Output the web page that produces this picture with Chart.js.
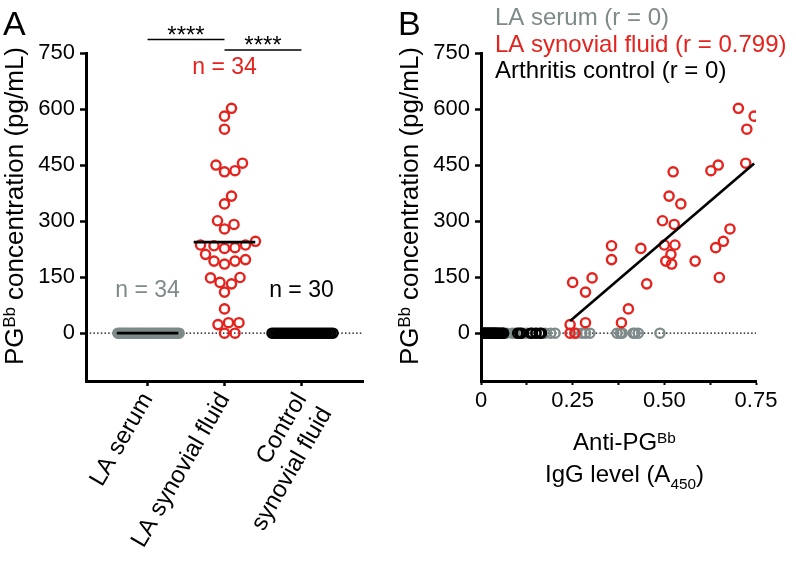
<!DOCTYPE html>
<html>
<head>
<meta charset="utf-8">
<script src="https://cdn.jsdelivr.net/npm/chart.js@4.4.0/dist/chart.umd.min.js"></script>
<style>
    html, body { margin: 0; padding: 0; background: #fff; }
    #wrap { position: relative; width: 796px; height: 568px; }
    #panelA { position: absolute; left: 0; top: 0; }
    #panelB { position: absolute; left: 380px; top: 0; }
</style>
</head>
<body>
<div id="wrap">
    <canvas id="panelA" width="380" height="568"></canvas>
    <canvas id="panelB" width="416" height="568"></canvas>
</div>
<script>
// ---- data ----
const groupLabels = ['LA serum', 'LA synovial fluid', ['Control', 'synovial fluid']];
const yTicks = [0, 150, 300, 450, 600, 750];
const igTicks = [0, 0.125, 0.25, 0.375, 0.5, 0.625, 0.75];
const igTickLabels = ['0', '', '0.25', '', '0.50', '', '0.75'];

// LA synovial fluid, same 34 samples in both panels
const synovialPG = [602, 581, 546, 455, 450, 435, 432, 367, 346, 301, 291, 279, 246, 236, 236, 234, 227,
    229, 211, 197, 193, 185, 193, 136, 148, 110, 132, 149, 65, 28, 23, 28, 0, 0];
const synovialIgG = [0.702, 0.745, 0.725, 0.722, 0.647, 0.627, 0.524, 0.513, 0.545, 0.495, 0.527, 0.679,
    0.661, 0.500, 0.529, 0.356, 0.436, 0.640, 0.518, 0.356, 0.504, 0.520, 0.584, 0.250, 0.303, 0.285,
    0.452, 0.650, 0.402, 0.383, 0.243, 0.285, 0.243, 0.256];

// LA serum (34) - PGBb never detected
const serumPG = new Array(34).fill(0);
const serumIgG = [0.004, 0.008, 0.012, 0.016, 0.02, 0.025, 0.03, 0.035, 0.04, 0.046, 0.052, 0.058, 0.07,
    0.085, 0.093, 0.1, 0.115, 0.125, 0.15, 0.175, 0.19, 0.202, 0.26, 0.275, 0.285, 0.297, 0.371, 0.38,
    0.385, 0.415, 0.42, 0.429, 0.488, 0.062];

// Arthritis control synovial fluid (30)
const controlPG = new Array(30).fill(0);
const controlIgG = [0.002, 0.005, 0.008, 0.01, 0.012, 0.015, 0.018, 0.02, 0.022, 0.025, 0.028, 0.03, 0.032,
    0.035, 0.038, 0.04, 0.043, 0.046, 0.05, 0.054, 0.058, 0.062, 0.1, 0.106, 0.11, 0.135, 0.14, 0.15,
    0.16, 0.165];

const groupValues = [serumPG, synovialPG, controlPG];
const correlations = ['0', '0.799', '0'];

const GRAY = '#7e8a8a';
const RED = '#e5231e';
const BLACK = '#000000';
const groupColors = [GRAY, RED, BLACK];
const FONT = '"Liberation Sans", Arial, Helvetica, sans-serif';

const X_MIN_A = -0.8, X_MAX_A = 2.8;
const X_MIN_B = 0, X_MAX_B = 0.75;

Chart.defaults.font.family = FONT;
Chart.defaults.color = '#000';

const mean = arr => arr.reduce((a, b) => a + b, 0) / arr.length;

// simple beeswarm: offsets in category units, squeezed into maxHalf if too wide
function swarm(values, pxPerX, pxPerY, diam, maxHalf) {
    const order = values.map((v, i) => i).sort((a, b) => values[a] - values[b]);
    const off = new Array(values.length).fill(0);
    const placed = [];
    order.forEach(i => {
        const py = values[i] * pxPerY;
        let best = 0;
        for (let k = 0; k < 2000; k++) {
            const cand = (k % 2 ? 1 : -1) * Math.ceil(k / 2) * 0.5;
            if (placed.every(p => Math.hypot(p.x - cand, p.y - py) >= diam)) { best = cand; break; }
        }
        placed.push({ x: best, y: py });
        off[i] = best / pxPerX;
    });
    const widest = Math.max(...off.map(Math.abs));
    const k = widest > maxHalf ? maxHalf / widest : 1;
    return off.map(o => o * k);
}

function linFit(xs, ys) {
    const mx = mean(xs), my = mean(ys);
    let sxy = 0, sxx = 0;
    xs.forEach((x, i) => { sxy += (x - mx) * (ys[i] - my); sxx += (x - mx) * (x - mx); });
    const slope = sxy / sxx;
    return { slope, intercept: my - slope * mx };
}

// text with super/subscript parts: [[text, ''|'sup'|'sub'], ...]
function richText(ctx, parts, x, y, size, align) {
    const widths = parts.map(p => {
        ctx.font = (p[1] ? size * 0.64 : size) + 'px ' + FONT;
        return ctx.measureText(p[0]).width;
    });
    const total = widths.reduce((a, b) => a + b, 0);
    let cx = align === 'center' ? x - total / 2 : x;
    ctx.textAlign = 'left';
    ctx.textBaseline = 'alphabetic';
    parts.forEach((p, i) => {
        ctx.font = (p[1] ? size * 0.64 : size) + 'px ' + FONT;
        const dy = p[1] === 'sup' ? -size * 0.3 : p[1] === 'sub' ? size * 0.3 : 0;
        ctx.fillText(p[0], cx, y + dy);
        cx += widths[i];
    });
}

const yTitleParts = [['PG', ''], ['Bb', 'sup'], [' concentration (pg/mL)', '']];

function drawYTitle(ctx, x, y) {
    ctx.save();
    ctx.translate(x, y);
    ctx.rotate(-Math.PI / 2);
    ctx.fillStyle = '#000';
    richText(ctx, yTitleParts, 0, 0, 26, 'center');
    ctx.restore();
}

function yScale(extra) {
    return Object.assign({
        type: 'linear', min: -128, max: 750,
        afterBuildTicks: s => { s.ticks = yTicks.map(v => ({ value: v })); },
        ticks: { font: { size: 22 }, color: '#000', padding: 5 },
        grid: { color: 'rgba(0,0,0,0)', tickColor: '#000', tickLength: 6, tickWidth: 2.5 },
        border: { color: '#000', width: 3 }
    }, extra);
}

// dotted line at y = 0 across the whole plot
const zeroLine = (x0, x1) => ({
    type: 'line', data: [{ x: x0, y: 0 }, { x: x1, y: 0 }],
    borderColor: '#000', borderWidth: 1.3, borderDash: [1.5, 2.2], pointRadius: 0, order: 20
});

const pointStyle = color => ({
    pointRadius: 4.6, pointHoverRadius: 4.6, pointBorderWidth: 2.4,
    pointBorderColor: color, pointBackgroundColor: 'rgba(0,0,0,0)', showLine: false
});

// ---- panel A ----
const swarms = groupValues.map(v => swarm(v, 77, 280 / 750, 10.5, 0.41));

const datasetsA = [zeroLine(X_MIN_A, X_MAX_A)];
groupValues.forEach((vals, g) => {
    const m = mean(vals);
    datasetsA.push({
        type: 'line', data: [{ x: g - 0.4, y: m }, { x: g + 0.4, y: m }],
        borderColor: '#000', borderWidth: 2.8, pointRadius: 0, order: 0
    });
});
groupValues.forEach((vals, g) => {
    datasetsA.push(Object.assign({
        type: 'scatter', data: vals.map((v, i) => ({ x: g + swarms[g][i], y: v })), order: 1 + g
    }, pointStyle(groupColors[g])));
});

const annotA = {
    id: 'annotA',
    afterDraw(chart) {
        const { ctx, chartArea, scales: { x, y } } = chart;
        ctx.save();
        ctx.fillStyle = '#000';
        ctx.font = '34px ' + FONT;
        ctx.textAlign = 'left';
        ctx.textBaseline = 'alphabetic';
        ctx.fillText('A', 3, 35);
        drawYTitle(ctx, 23, (chartArea.top + chartArea.bottom) / 2 - 11);

        // significance bars
        ctx.strokeStyle = '#000';
        ctx.lineWidth = 1.5;
        const bars = [[0, 1, chartArea.top - 13.5], [1, 2, chartArea.top - 3]];
        bars.forEach(b => {
            const x0 = x.getPixelForValue(b[0]), x1 = x.getPixelForValue(b[1]);
            ctx.beginPath();
            ctx.moveTo(x0, b[2]);
            ctx.lineTo(x1, b[2]);
            ctx.stroke();
            ctx.font = '24px ' + FONT;
            ctx.textAlign = 'center';
            ctx.fillText('****', (x0 + x1) / 2, b[2] + 3);
        });

        // n labels
        ctx.font = '23px ' + FONT;
        ctx.textAlign = 'center';
        ctx.textBaseline = 'middle';
        const zero = y.getPixelForValue(0);
        const nPos = [zero - 43, chartArea.top + 15, zero - 43];
        groupValues.forEach((vals, g) => {
            ctx.fillStyle = groupColors[g];
            ctx.fillText('n = ' + vals.length, x.getPixelForValue(g), nPos[g]);
        });
        ctx.restore();
    }
};

new Chart(document.getElementById('panelA'), {
    data: { datasets: datasetsA },
    options: {
        responsive: false, animation: false,
        layout: { padding: { left: 0, right: 17, top: 53, bottom: 0 } },
        plugins: { legend: { display: false }, tooltip: { enabled: false } },
        scales: {
            x: {
                type: 'linear', min: X_MIN_A, max: X_MAX_A,
                afterBuildTicks: s => { s.ticks = groupLabels.map((l, i) => ({ value: i })); },
                afterFit: s => { s.height = 187; },
                ticks: {
                    autoSkip: false, minRotation: 60, maxRotation: 60, padding: 2,
                    font: { size: 24 }, color: '#000',
                    callback: v => groupLabels[v]
                },
                grid: { color: 'rgba(0,0,0,0)', tickColor: '#000', tickLength: 5, tickWidth: 2.5 },
                border: { color: '#000', width: 3 }
            },
            y: yScale({ afterFit: s => { s.width = 86; } })
        }
    },
    plugins: [annotA]
});

// ---- panel B ----
const fitB = linFit(synovialIgG, synovialPG);
const xLo = Math.min(...synovialIgG), xHi = Math.max(...synovialIgG);

const datasetsB = [
    zeroLine(X_MIN_B, X_MAX_B),
    {
        type: 'line',
        data: [{ x: xLo, y: fitB.intercept + fitB.slope * xLo }, { x: xHi, y: fitB.intercept + fitB.slope * xHi }],
        borderColor: '#000', borderWidth: 2.6, pointRadius: 0, order: 0
    },
    Object.assign({ type: 'scatter', data: synovialIgG.map((v, i) => ({ x: v, y: synovialPG[i] })), order: 1 }, pointStyle(RED)),
    Object.assign({ type: 'scatter', data: controlIgG.map((v, i) => ({ x: v, y: controlPG[i] })), order: 2 }, pointStyle(BLACK)),
    Object.assign({ type: 'scatter', data: serumIgG.map((v, i) => ({ x: v, y: serumPG[i] })), order: 3 }, pointStyle(GRAY))
];

const legendNames = ['LA serum', 'LA synovial fluid', 'Arthritis control'];

const annotB = {
    id: 'annotB',
    afterDraw(chart) {
        const { ctx, chartArea } = chart;
        ctx.save();
        ctx.fillStyle = '#000';
        ctx.font = '34px ' + FONT;
        ctx.textAlign = 'left';
        ctx.textBaseline = 'alphabetic';
        ctx.fillText('B', 18, 35);
        drawYTitle(ctx, 38, (chartArea.top + chartArea.bottom) / 2 - 11);

        // legend
        ctx.font = '24px ' + FONT;
        ctx.textAlign = 'left';
        ctx.textBaseline = 'alphabetic';
        legendNames.forEach((name, g) => {
            ctx.fillStyle = groupColors[g];
            ctx.fillText(name + ' (r = ' + correlations[g] + ')', 115, 25 + g * 26.5);
        });

        // x title
        ctx.fillStyle = '#000';
        const cx = (chartArea.left + chartArea.right) / 2 + 6;
        richText(ctx, [['Anti-PG', ''], ['Bb', 'sup']], cx, 450, 24, 'center');
        richText(ctx, [['IgG level (A', ''], ['450', 'sub'], [')', '']], cx, 482, 24, 'center');
        ctx.restore();
    }
};

new Chart(document.getElementById('panelB'), {
    data: { datasets: datasetsB },
    options: {
        responsive: false, animation: false,
        layout: { padding: { left: 0, right: 40, top: 53, bottom: 0 } },
        plugins: { legend: { display: false }, tooltip: { enabled: false } },
        scales: {
            x: {
                type: 'linear', min: X_MIN_B, max: X_MAX_B,
                afterBuildTicks: s => { s.ticks = igTicks.map(v => ({ value: v })); },
                afterFit: s => { s.height = 187; },
                ticks: {
                    autoSkip: false, maxRotation: 0, padding: 3,
                    font: { size: 22 }, color: '#000',
                    callback: (v, i) => igTickLabels[i]
                },
                grid: { color: 'rgba(0,0,0,0)', tickColor: '#000', tickLength: 4, tickWidth: 2 },
                border: { color: '#000', width: 3 }
            },
            y: yScale({ afterFit: s => { s.width = 101; } })
        }
    },
    plugins: [annotB]
});
</script>
</body>
</html>
